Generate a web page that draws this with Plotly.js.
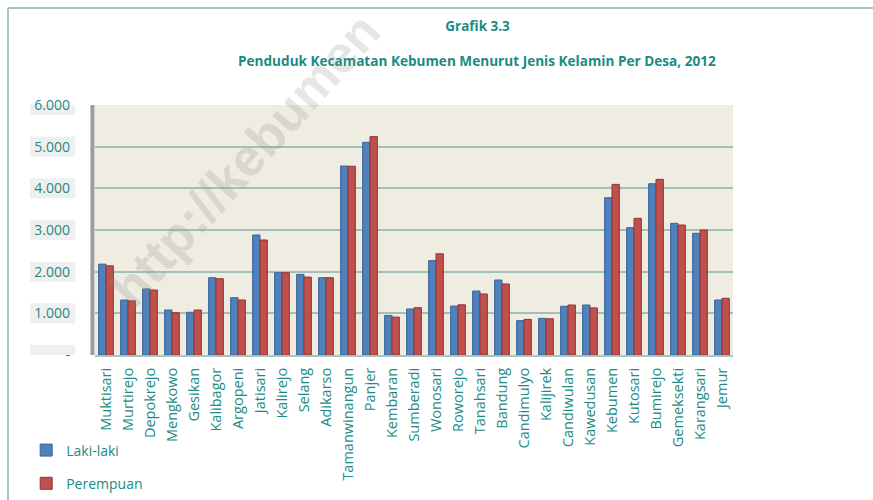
<!DOCTYPE html>
<html>
<head>
<meta charset="utf-8">
<script src="https://cdn.plot.ly/plotly-3.0.1.min.js"></script>
<style>html,body{margin:0;padding:0;background:#fff;}#chart{width:873px;height:500px;}</style>
</head>
<body>
<div id="chart"></div>
<script>
var desa = ["Muktisari","Murtirejo","Depokrejo","Mengkowo","Gesikan","Kalibagor","Argopeni","Jatisari","Kalirejo","Selang","Adikarso","Tamanwinangun","Panjer","Kembaran","Sumberadi","Wonosari","Roworejo","Tanahsari","Bandung","Candimulyo","Kalijirek","Candiwulan","Kawedusan","Kebumen","Kutosari","Bumirejo","Gemeksekti","Karangsari","Jemur"];
var lakiLaki = [2180,1320,1585,1080,1025,1855,1375,2880,1975,1935,1855,4535,5105,950,1105,2265,1175,1535,1800,825,880,1170,1200,3775,3055,4110,3160,2920,1320];
var perempuan = [2140,1300,1560,1015,1080,1830,1320,2760,1975,1870,1855,4530,5240,910,1135,2430,1205,1465,1705,855,870,1200,1130,4095,3280,4215,3120,3000,1360];
var yTickVals = [0,1000,2000,3000,4000,5000,6000];
var yTickText = ["-","1.000","2.000","3.000","4.000","5.000","6.000"];

var teal = "#1b8a84";
var font = "Open Sans, sans-serif";

var traces = [
  {type:"bar", name:"Laki-laki", x:desa, y:lakiLaki, legendgroup:"a",
   marker:{color:"#4f81bd", line:{color:"#3a6396", width:1}}},
  {type:"bar", name:"Perempuan", x:desa, y:perempuan, legendgroup:"b",
   marker:{color:"#c0504d", line:{color:"#8f3533", width:1}}}
];

var shapes = [];
yTickVals.forEach(function(v){
  shapes.push({type:"rect", xref:"paper", yref:"y", x0:-0.102, x1:-0.031, y0:v-240, y1:v+240,
    fillcolor:"#efefef", line:{width:0}, layer:"below"});
});
shapes.push({type:"line", xref:"paper", yref:"paper", x0:-0.1364, x1:1.25, y0:1.388, y1:1.388, line:{color:"#a9c3c0", width:2}});
shapes.push({type:"line", xref:"paper", yref:"paper", x0:-0.1364, x1:-0.1364, y0:1.388, y1:-0.6, line:{color:"#a9c3c0", width:2}});
shapes.push({type:"line", xref:"paper", yref:"paper", x0:-0.004, x1:-0.004, y0:0, y1:1, line:{color:"#9a9e96", width:4}});

var layout = {
  width:873, height:500,
  margin:{l:95, r:140, t:105, b:145, autoexpand:false},
  paper_bgcolor:"#ffffff",
  plot_bgcolor:"#efece2",
  font:{family:font, color:teal},
  title:{text:"<b>Grafik 3.3</b>", x:0.547, xref:"container", y:0.948, yref:"container", yanchor:"middle",
    font:{family:font, size:13.5, color:teal}},
  barmode:"group",
  bargap:0.33,
  bargroupgap:0,
  showlegend:true,
  legend:{xref:"container", yref:"container", x:0.03, xanchor:"left", y:0.131, yanchor:"top", orientation:"v", tracegroupgap:12,
    font:{family:font, size:14, color:teal}, bgcolor:"rgba(0,0,0,0)", itemwidth:30},
  xaxis:{type:"category", tickangle:-90, tickfont:{family:font, size:14.5, color:teal}, automargin:false,
    showgrid:false, zeroline:false, showline:true, linecolor:"#a9c3c0", linewidth:2, ticks:"", ticklabelstandoff:5},
  yaxis:{range:[0,6000], tickvals:yTickVals, ticktext:yTickText, tickfont:{family:font, size:14, color:teal},
    automargin:false, showgrid:true, gridcolor:"#9fc0bb", gridwidth:2, zeroline:false, showline:false, ticks:"", ticklabelstandoff:24},
  shapes:shapes,
  annotations:[
    {text:"<b>Penduduk Kecamatan Kebumen Menurut Jenis Kelamin Per Desa, 2012</b>", xref:"paper", yref:"paper",
     x:0.599, y:(355-60)/250, xanchor:"center", yanchor:"middle", showarrow:false,
     font:{family:font, size:13.6, color:teal}},
    {text:"<b>http://kebumen</b>", xref:"paper", yref:"paper",
     x:(245-95)/638, y:(355-160)/250, xanchor:"center", yanchor:"middle", showarrow:false, textangle:-48,
     font:{family:"Liberation Sans, sans-serif", size:52, color:"rgba(140,140,130,0.22)"}}
  ]
};

Plotly.newPlot("chart", traces, layout, {displayModeBar:false, staticPlot:true});
</script>
</body>
</html>
